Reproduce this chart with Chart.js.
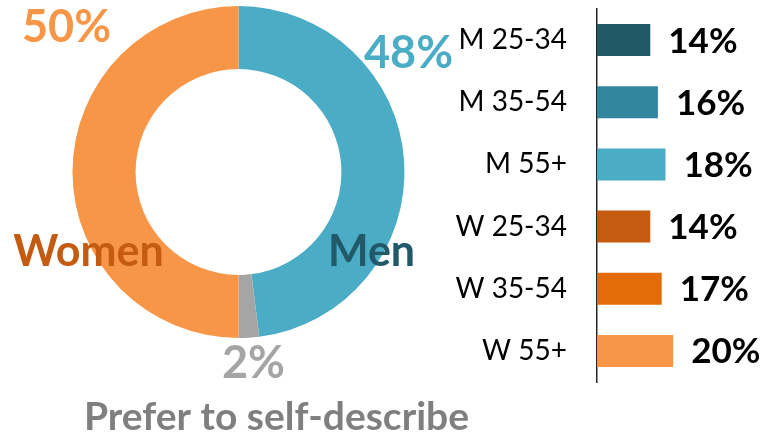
<!DOCTYPE html>
<html>
<head>
<meta charset="utf-8">
<script src="https://cdn.jsdelivr.net/npm/chart.js@4"></script>
<style>
  body { margin: 0; background: #fff; }
  #wrap { position: relative; width: 766px; height: 436px; overflow: hidden; }
  canvas { position: absolute; top: 0; }
  #donut { left: 0; }
  #bars { left: 440px; }
</style>
</head>
<body>
<div id="wrap">
  <canvas id="donut" width="480" height="436"></canvas>
  <canvas id="bars" width="326" height="436"></canvas>
</div>
<script>
// doughnut data (clockwise from the top)
const genderLabels = ['Men', 'Prefer to self-describe', 'Women'];
const genderValues = [48, 2, 50];
const genderPctText = ['48%', '2%', '50%'];

// age / gender breakdown
const groupLabels = ['M 25-34', 'M 35-54', 'M 55+', 'W 25-34', 'W 35-54', 'W 55+'];
const groupValues = [14, 16, 18, 14, 17, 20];

const FONT = 'Lato, "Open Sans", sans-serif';

// text placed around the ring, offsets from the ring centre (alphabetic baseline)
const donutText = [
    { text: () => genderPctText[2], dx: -172, dy: -130, size: 45, color: '#F79646' },
    { text: () => genderPctText[0], dx: 170, dy: -104, size: 45, color: '#4BACC6' },
    { text: () => genderLabels[2], dx: -150, dy: 94, size: 43, color: '#C55A11' },
    { text: () => genderLabels[0], dx: 133, dy: 94, size: 43, color: '#215968' },
    { text: () => genderPctText[1], dx: 15, dy: 206, size: 45, color: '#A5A5A5' },
    { text: () => genderLabels[1], dx: 38, dy: 258, size: 39, color: '#7F7F7F' }
];

const donutLabels = {
    id: 'donutLabels',
    afterDraw(chart) {
        const arc = chart.getDatasetMeta(0).data[0];
        const ctx = chart.ctx;
        ctx.save();
        ctx.textAlign = 'center';
        ctx.textBaseline = 'alphabetic';
        donutText.forEach(t => {
            ctx.font = `bold ${t.size}px ${FONT}`;
            ctx.fillStyle = t.color;
            ctx.fillText(t.text(), arc.x + t.dx, arc.y + t.dy);
        });
        ctx.restore();
    }
};

new Chart(document.getElementById('donut'), {
    type: 'doughnut',
    data: {
        labels: genderLabels,
        datasets: [{
            data: genderValues,
            backgroundColor: ['#4BACC6', '#A5A5A5', '#F79646'],
            borderWidth: 0
        }]
    },
    options: {
        responsive: false,
        animation: false,
        cutout: '62%',
        layout: { padding: { left: 72.5, right: 75.5, top: 6, bottom: 98 } },
        plugins: {
            legend: { display: false },
            tooltip: { enabled: false }
        }
    },
    plugins: [donutLabels]
});

const barValueLabels = {
    id: 'barValueLabels',
    afterDatasetsDraw(chart) {
        const ctx = chart.ctx;
        const meta = chart.getDatasetMeta(0);
        ctx.save();
        ctx.font = `bold 35px ${FONT}`;
        ctx.fillStyle = '#000';
        ctx.textAlign = 'left';
        ctx.textBaseline = 'alphabetic';
        meta.data.forEach((bar, i) => {
            ctx.fillText(groupValues[i] + '%', bar.x + 18, bar.y + 12.5);
        });
        ctx.restore();
    }
};

new Chart(document.getElementById('bars'), {
    type: 'bar',
    data: {
        labels: groupLabels,
        datasets: [{
            data: groupValues,
            backgroundColor: ['#215968', '#31859C', '#4BACC6', '#C55A11', '#E36C09', '#F79646'],
            borderWidth: 0,
            categoryPercentage: 1,
            barPercentage: 0.515
        }]
    },
    options: {
        indexAxis: 'y',
        responsive: false,
        animation: false,
        layout: { padding: { top: 9, bottom: 54, right: 0, left: 0 } },
        plugins: {
            legend: { display: false },
            tooltip: { enabled: false }
        },
        scales: {
            x: {
                display: false,
                min: 0,
                max: 44.4
            },
            y: {
                afterFit: (scale) => {
                    // fixed gutter for the labels, no extra label padding at the ends
                    scale.width = 157;
                    scale.paddingTop = 0;
                    scale.paddingBottom = 0;
                },
                grid: { display: false, drawTicks: false },
                border: { display: true, color: '#262626', width: 1.5 },
                ticks: {
                    color: '#000',
                    padding: 30,
                    font: { family: FONT, size: 28 }
                }
            }
        }
    },
    plugins: [barValueLabels]
});
</script>
</body>
</html>
